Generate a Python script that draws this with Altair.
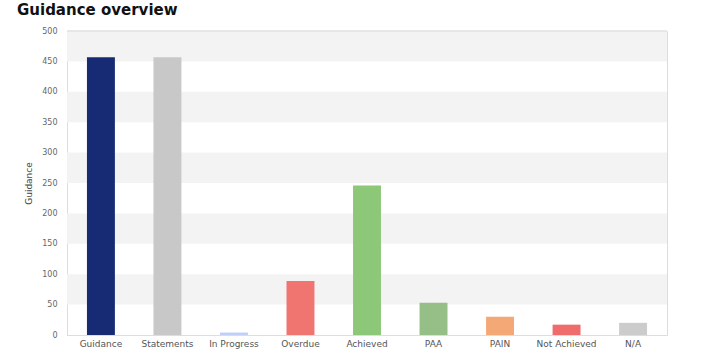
import altair as alt
import pandas as pd

categories = ["Guidance", "Statements", "In Progress", "Overdue", "Achieved", "PAA", "PAIN", "Not Achieved", "N/A"]
values = [457, 457, 4, 89, 246, 53, 30, 17, 20]
colors = ["#172B74", "#C8C8C8", "#BFCFF5", "#F07470", "#8CC877", "#96BE87", "#F4A876", "#F06B6B", "#CCCCCC"]
band_lo = [50, 150, 250, 350, 450]
band_hi = [100, 200, 300, 400, 500]
tick_values = [0, 50, 100, 150, 200, 250, 300, 350, 400, 450, 500]

df = pd.DataFrame({"cat": categories, "val": values, "color": colors})
bands = pd.DataFrame({"lo": band_lo, "hi": band_hi})

yscale = alt.Scale(domain=[0, 500], nice=False)
yaxis = alt.Axis(title="Guidance", values=tick_values, labelOverlap=False,
                 labelFont="DejaVu Sans", labelFontSize=8, labelColor="#666",
                 labelPadding=10, ticks=False, grid=False, domainColor="#DDDDDD",
                 titleFont="DejaVu Sans", titleFontSize=9, titleFontWeight="normal",
                 titleColor="#444", titlePadding=8)

stripes = alt.Chart(bands).mark_rect(color="#F3F3F3").encode(
    x=alt.value(0), x2=alt.value(600),
    y=alt.Y("lo:Q", scale=yscale, axis=yaxis), y2="hi:Q",
)

bars = alt.Chart(df).mark_bar().encode(
    x=alt.X("cat:N", sort=categories,
            scale=alt.Scale(paddingInner=0.58, paddingOuter=0.3),
            axis=alt.Axis(title=None, labelAngle=0, labelFont="DejaVu Sans",
                          labelFontSize=9, labelColor="#555", labelPadding=4,
                          ticks=False, domainColor="#DDDDDD")),
    y=alt.Y("val:Q", scale=yscale, axis=yaxis),
    color=alt.Color("color:N", scale=None),
)

top_line = alt.Chart(bands).mark_rule(color="#E6E6E6").encode(
    x=alt.value(0), x2=alt.value(600), y=alt.value(0)
)

chart = alt.layer(stripes, top_line, bars).properties(
    width=600, height=304,
    title=alt.TitleParams("Guidance overview", anchor="start", frame="group", font="DejaVu Sans",
                          fontSize=15, fontWeight="bold", color="#111", offset=9, dx=-50),
    padding={"left": 67, "top": 31, "right": 42, "bottom": 16},
    autosize=alt.AutoSizeParams(type="none"),
).configure_view(stroke=None).configure(background="white")

chart.save("out.html", embed_options={"renderer": "svg", "actions": False})
